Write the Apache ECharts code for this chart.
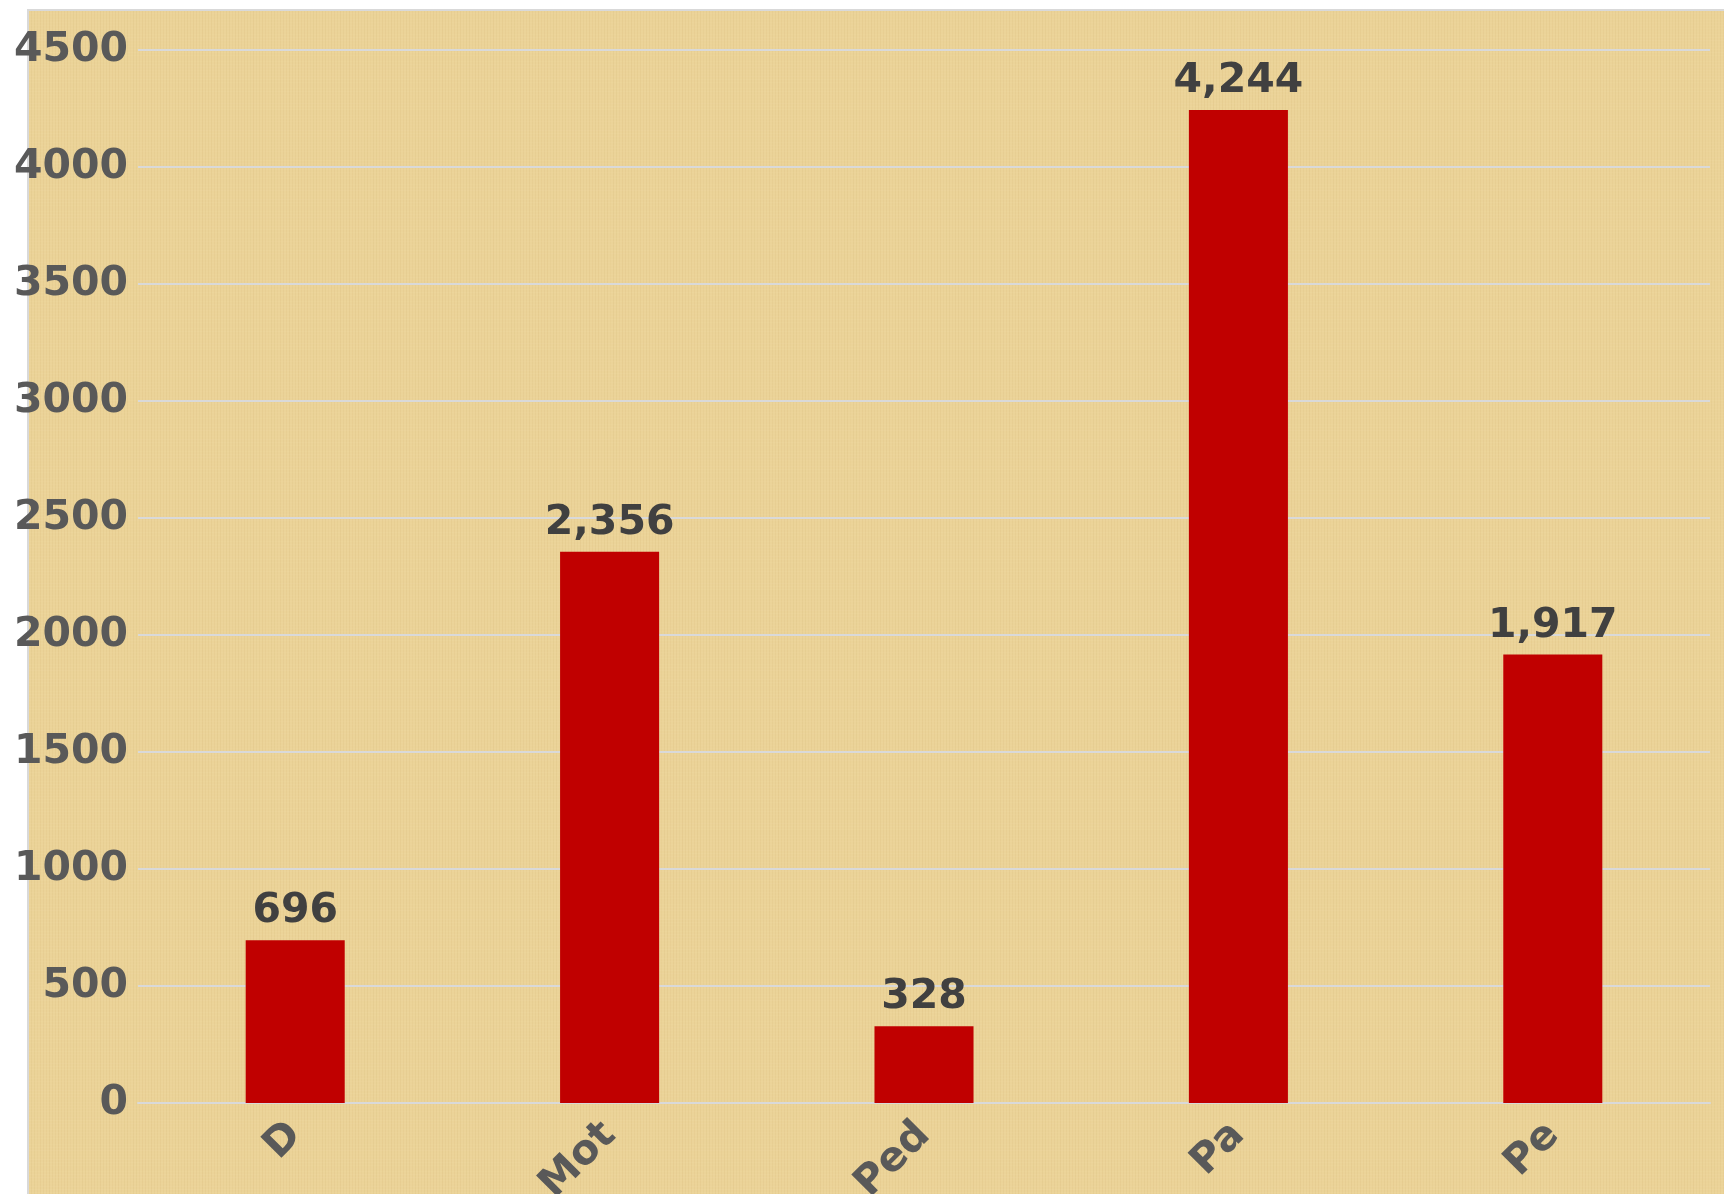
<!DOCTYPE html>
<html>
<head>
<meta charset="utf-8">
<script src="https://cdn.jsdelivr.net/npm/echarts@6/dist/echarts.min.js"></script>
<style>
  html, body { margin: 0; padding: 0; background: #fff; }
  #chart { width: 1724px; height: 1194px; }
</style>
</head>
<body>
<div id="chart"></div>
<script>
// chart data
var categories = ['D', 'Mot', 'Ped', 'Pa', 'Pe']
var counts = [696, 2356, 328, 4244, 1917]
var yTicks = [0, 500, 1000, 1500, 2000, 2500, 3000, 3500, 4000, 4500]

// papyrus-ish backdrop, deterministic stripes
function makeTexture() {
  var c = document.createElement('canvas')
  c.width = 240
  c.height = 240
  var g = c.getContext('2d')
  g.fillStyle = '#ebd398'
  g.fillRect(0, 0, 240, 240)
  for (var i = 0; i < 240; i += 3) {
    var a = 0.05 + 0.05 * Math.abs(Math.sin(i * 0.37))
    g.fillStyle = 'rgba(190,150,80,' + a.toFixed(3) + ')'
    g.fillRect(i, 0, 1, 240)
    var b = 0.04 + 0.05 * Math.abs(Math.cos(i * 0.23))
    g.fillStyle = 'rgba(250,235,190,' + b.toFixed(3) + ')'
    g.fillRect(0, i, 240, 1)
  }
  return c
}

var chart = echarts.init(document.getElementById('chart'))
var labelFont = 'DejaVu Sans'

chart.setOption({
  animation: false,
  graphic: [{
    type: 'rect',
    left: 27,
    top: 9,
    z: -10,
    shape: { width: 1724 - 27, height: 1194 - 9 },
    style: { fill: { image: makeTexture(), repeat: 'repeat' }, stroke: '#d9d9d9', lineWidth: 2 },
    silent: true
  }],
  grid: {
    left: 138,
    right: 14,
    top: 50,
    bottom: 91,
    outerBoundsMode: 'none'
  },
  xAxis: {
    type: 'category',
    data: categories,
    axisTick: { show: false },
    axisLine: { lineStyle: { color: '#d9d9d9', width: 2 } },
    axisLabel: {
      rotate: 45,
      margin: 26,
      color: '#595959',
      fontFamily: labelFont,
      fontWeight: 'bold',
      fontSize: 41
    }
  },
  yAxis: {
    type: 'value',
    min: yTicks[0],
    max: yTicks[yTicks.length - 1],
    interval: 500,
    axisLine: { show: false },
    axisTick: { show: false },
    splitLine: { lineStyle: { color: '#d9d9d9', width: 2 } },
    axisLabel: {
      margin: 10,
      color: '#595959',
      fontFamily: labelFont,
      fontWeight: 'bold',
      fontSize: 41,
      formatter: function (v) { return String(v) }
    }
  },
  series: [{
    type: 'bar',
    data: counts,
    barWidth: '31.5%',
    itemStyle: { color: '#c00000' },
    label: {
      show: true,
      position: 'top',
      distance: 8,
      color: '#404040',
      fontFamily: labelFont,
      fontWeight: 'bold',
      fontSize: 41,
      formatter: function (p) { return p.value.toLocaleString('en-US') }
    }
  }]
})
</script>
</body>
</html>
